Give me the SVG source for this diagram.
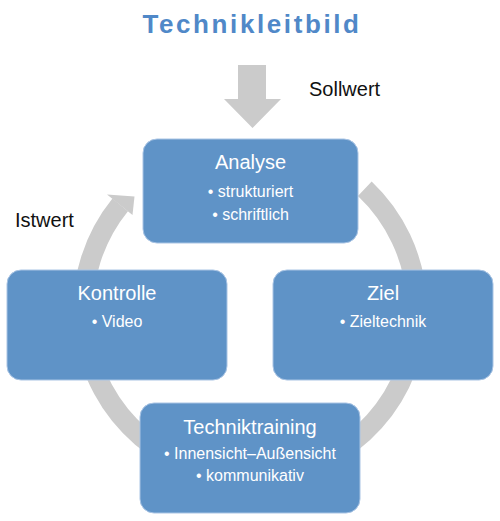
<svg xmlns="http://www.w3.org/2000/svg" width="500" height="521" viewBox="0 0 500 521">
<style>
.box{fill:#5f93c7;stroke:#a9c4e4;stroke-width:1}
.t{font-family:"Liberation Sans",Arial,sans-serif;fill:#ffffff;text-anchor:middle}
.h{font-size:20px}
.b{font-size:16px}
.lbl{font-family:"Liberation Sans",Arial,sans-serif;font-size:20px;fill:#111111}
.gray{fill:#cbcbcb}
</style>
<rect width="500" height="521" fill="#ffffff"/>
<text x="252" y="33" font-family="'Liberation Sans',Arial,sans-serif" font-size="26" font-weight="bold" letter-spacing="2.6" fill="#5088c8" text-anchor="middle">Technikleitbild</text>
<g id="connectors">
<path d="M 364.8 188.7 A 167 167 0 1 1 120.2 204.9" fill="none" stroke="#cbcbcb" stroke-width="20"/>
<polygon class="gray" points="107,194.5 134.5,196.5 132.5,215"/>
<polygon class="gray" points="238,65 266,65 266,99 281,99 252.5,128 224,99 238,99"/>
</g>
<text class="lbl" x="309" y="96">Sollwert</text>
<text class="lbl" x="15" y="227">Istwert</text>
<g id="analyse">
<rect class="box" x="143" y="139" width="215" height="104" rx="14"/>
<text class="t h" x="250.5" y="169">Analyse</text>
<text class="t b" x="250.5" y="197">• strukturiert</text>
<text class="t b" x="250.5" y="220">• schriftlich</text>
</g>
<g id="kontrolle">
<rect class="box" x="7" y="270" width="220" height="110" rx="14"/>
<text class="t h" x="117" y="300">Kontrolle</text>
<text class="t b" x="117" y="327">• Video</text>
</g>
<g id="ziel">
<rect class="box" x="273" y="270" width="220" height="110" rx="14"/>
<text class="t h" x="383" y="300">Ziel</text>
<text class="t b" x="383" y="327">• Zieltechnik</text>
</g>
<g id="techniktraining">
<rect class="box" x="140" y="403" width="220" height="110" rx="14"/>
<text class="t h" x="250" y="434">Techniktraining</text>
<text class="t b" x="250" y="459">• Innensicht–Außensicht</text>
<text class="t b" x="250" y="481">• kommunikativ</text>
</g>
</svg>
